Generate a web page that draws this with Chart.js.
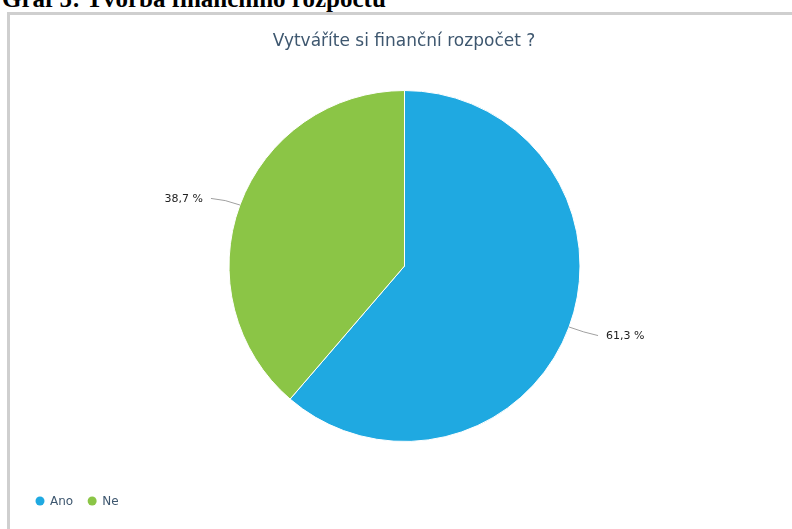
<!DOCTYPE html>
<html>
<head>
<meta charset="utf-8">
<script src="https://cdn.jsdelivr.net/npm/chart.js@4/dist/chart.umd.min.js"></script>
<style>
  html, body { margin: 0; padding: 0; background: #fff; }
  body { width: 792px; height: 529px; position: relative; overflow: hidden; }
  #heading {
    position: absolute; left: 2px; top: -14px;
    font: bold 25px/25px "Liberation Serif", "Times New Roman", serif;
    color: #000; white-space: nowrap;
  }
  #frame {
    position: absolute; left: 7px; top: 12px; right: -10px; bottom: -10px;
    border-left: 3px solid #cfcfcf; border-top: 3px solid #cfcfcf;
  }
  #wrap { position: absolute; left: 0; top: 0; width: 792px; height: 529px; }
</style>
</head>
<body>
<div id="heading">Graf 5: Tvorba finančního rozpočtu</div>
<div id="frame"></div>
<div id="wrap"><canvas id="c" width="792" height="529"></canvas></div>
<script>
const chartTitle = 'Vytváříte si finanční rozpočet ?';
const categories = ['Ano', 'Ne'];
const shares = [61.3, 38.7];
const valueLabels = ['61,3 %', '38,7 %'];
const sliceColors = ['#1fa9e1', '#8bc546'];

const FONT = '"DejaVu Sans", Verdana, sans-serif';

// Title, leader-line data labels and a compact legend drawn on the chart canvas
const decorations = {
  id: 'decorations',
  afterDatasetsDraw(chart) {
    const ctx = chart.ctx;
    const meta = chart.getDatasetMeta(0);
    ctx.save();

    // title
    ctx.fillStyle = '#3e576f';
    ctx.font = '17px ' + FONT;
    ctx.textAlign = 'center';
    ctx.textBaseline = 'alphabetic';
    ctx.fillText(chartTitle, 404, 46);

    // data labels with soft connectors
    ctx.font = '11px ' + FONT;
    ctx.textBaseline = 'middle';
    meta.data.forEach((arc, i) => {
      const mid = (arc.startAngle + arc.endAngle) / 2;
      const r = arc.outerRadius;
      const cx = arc.x, cy = arc.y;
      const ex = cx + Math.cos(mid) * r;
      const ey = cy + Math.sin(mid) * r;
      const right = Math.cos(mid) >= 0;
      const kx = cx + Math.cos(mid) * (r + 16);
      const ky = cy + Math.sin(mid) * (r + 16);
      const lx = kx + (right ? 14 : -14);
      const ly = ky + (Math.sin(mid) >= 0 ? 3 : -1);
      ctx.strokeStyle = '#a0a0a0';
      ctx.lineWidth = 1;
      ctx.beginPath();
      ctx.moveTo(lx, ly);
      ctx.quadraticCurveTo(kx, ky, ex, ey);
      ctx.stroke();
      ctx.fillStyle = '#222';
      ctx.textAlign = right ? 'left' : 'right';
      ctx.fillText(valueLabels[i], lx + (right ? 8 : -8), ly + 1);
    });

    // legend
    ctx.font = '12px ' + FONT;
    ctx.textAlign = 'left';
    ctx.textBaseline = 'middle';
    let x = 40;
    const y = 502;
    categories.forEach((name, i) => {
      ctx.fillStyle = sliceColors[i];
      ctx.beginPath();
      ctx.arc(x, y - 1, 4.5, 0, Math.PI * 2);
      ctx.fill();
      ctx.fillStyle = '#3e576f';
      ctx.fillText(name, x + 10, y);
      x += 10 + ctx.measureText(name).width + 19;
    });
    ctx.restore();
  }
};

new Chart(document.getElementById('c'), {
  type: 'pie',
  data: {
    labels: categories,
    datasets: [{
      data: shares,
      backgroundColor: sliceColors,
      borderColor: '#ffffff',
      borderWidth: 1
    }]
  },
  options: {
    responsive: false,
    animation: false,
    events: [],
    layout: { padding: { left: 228, right: 211, top: 90, bottom: 87 } },
    plugins: {
      legend: { display: false },
      title: { display: false },
      tooltip: { enabled: false }
    }
  },
  plugins: [decorations]
});
</script>
</body>
</html>
